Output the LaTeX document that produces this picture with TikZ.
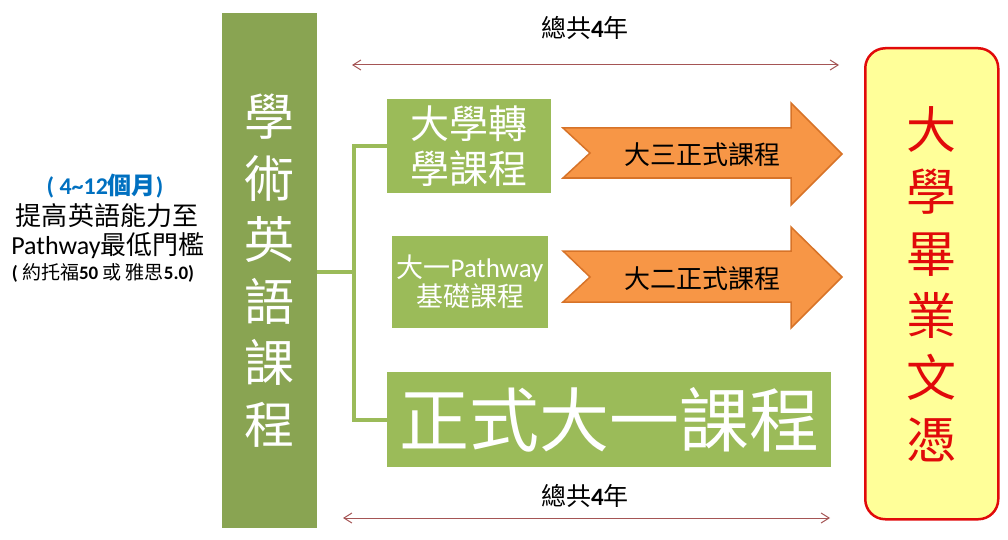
\documentclass[tikz,border=0pt]{standalone}
\usepackage{fontspec}
\setmainfont{Carlito}
\newfontfamily\cjk{Noto Sans CJK TC}
\usetikzlibrary{arrows.meta}
\definecolor{bargreen}{RGB}{137,164,82}
\definecolor{boxgreen}{RGB}{155,187,89}
\definecolor{arrfill}{RGB}{247,150,70}
\definecolor{arrdraw}{RGB}{215,115,40}
\definecolor{spanred}{RGB}{165,85,85}
\definecolor{blueT}{RGB}{0,112,192}
\definecolor{certfill}{RGB}{255,255,153}
\definecolor{certred}{RGB}{225,10,10}
\tikzset{
  gbox/.style={fill=boxgreen, inner sep=0, outer sep=0, anchor=north west, text=white, align=center},
  tree/.style={draw=boxgreen, line width=4pt, line join=miter},
  bigarrow/.style={fill=arrfill, draw=arrdraw, line width=1.5pt, line join=miter},
  arrtext/.style={font=\cjk\fontsize{26}{30}\selectfont, text=black},
  span/.style={draw=spanred, line width=1pt, {Straight Barb[length=8pt,width=10pt]}-{Straight Barb[length=8pt,width=10pt]}},
  spantext/.style={font=\cjk\fontsize{25}{30}\selectfont, text=black}
}
\begin{document}
\begin{tikzpicture}[x=1pt,y=-1pt]
\useasboundingbox (0,0) rectangle (1008,540);

% left description
\node (t1) at (105,186) {\fontsize{24}{28}\selectfont\bfseries\color{blueT}( 4\char`~12{\cjk 個月})};
\node (t2) at (107,216) {\cjk\fontsize{26}{30}\selectfont 提高英語能力至};
\node (t3) at (108,246) {\fontsize{26}{30}\selectfont Pathway{\cjk 最低門檻}};
\node (t4) at (103,273) {\fontsize{19}{22}\selectfont\bfseries ( {\cjk\mdseries 約托福}50 {\cjk\mdseries 或} {\cjk\mdseries 雅思}5.0)};

% vertical bar
\node (bar) [fill=bargreen, inner sep=0, outer sep=0, anchor=north west,
  minimum width=95, minimum height=515, text=white, align=center,
  font=\cjk\fontsize{50}{61.5}\selectfont] at (222,13)
  {學\\術\\英\\語\\課\\程};

% green boxes
\node (b1) [gbox, minimum width=164, minimum height=94, font=\cjk\fontsize{39}{45}\selectfont] at (387,99) {大學轉\\學課程};
\node (b2) [gbox, minimum width=156, minimum height=92, font=\fontsize{27}{29}\selectfont] at (392,236) {{\cjk 大一}Pathway\\{\cjk 基礎課程}};
\node (b3) [gbox, minimum width=444, minimum height=95, font=\cjk\fontsize{70}{72}\selectfont] at (387,372) {正式大一課程};

% tree connectors
\coordinate (j) at (354,272);
\draw[tree] (bar.east |- j) -- (j);
\draw[tree] (b1.west) -| (j) |- (b3.west);

% orange arrows
\draw[bigarrow] (563,128) -- (791,128) -- (791,103) -- (842,154) -- (791,205) -- (791,178) -- (563,178) -- (590,153) -- cycle;
\node (a1) [arrtext] at (702,155) {大三正式課程};
\draw[bigarrow] (563,251) -- (791,251) -- (791,227) -- (842,277) -- (791,328) -- (791,302) -- (563,302) -- (590,277) -- cycle;
\node (a2) [arrtext] at (702,279) {大二正式課程};

% span arrows
\coordinate (s1l) at (352,65);
\coordinate (s1r) at (839,65);
\draw[span] (s1l) -- (s1r);
\node (s1t) [spantext] at (585,28) {總共{\rmfamily\bfseries 4}年};
\coordinate (s2l) at (343,518);
\coordinate (s2r) at (830,518);
\draw[span] (s2l) -- (s2r);
\node (s2t) [spantext] at (585,496) {總共{\rmfamily\bfseries 4}年};

% certificate
\node (cert) [rounded corners=20pt, draw=certred, line width=2.5pt, fill=certfill,
  inner sep=0, anchor=north west, minimum width=133, minimum height=471,
  text=certred, align=center, font=\cjk\fontsize{50}{62}\selectfont] at (864,47)
  {大\\學\\畢\\業\\文\\憑};
\end{tikzpicture}
\end{document}
